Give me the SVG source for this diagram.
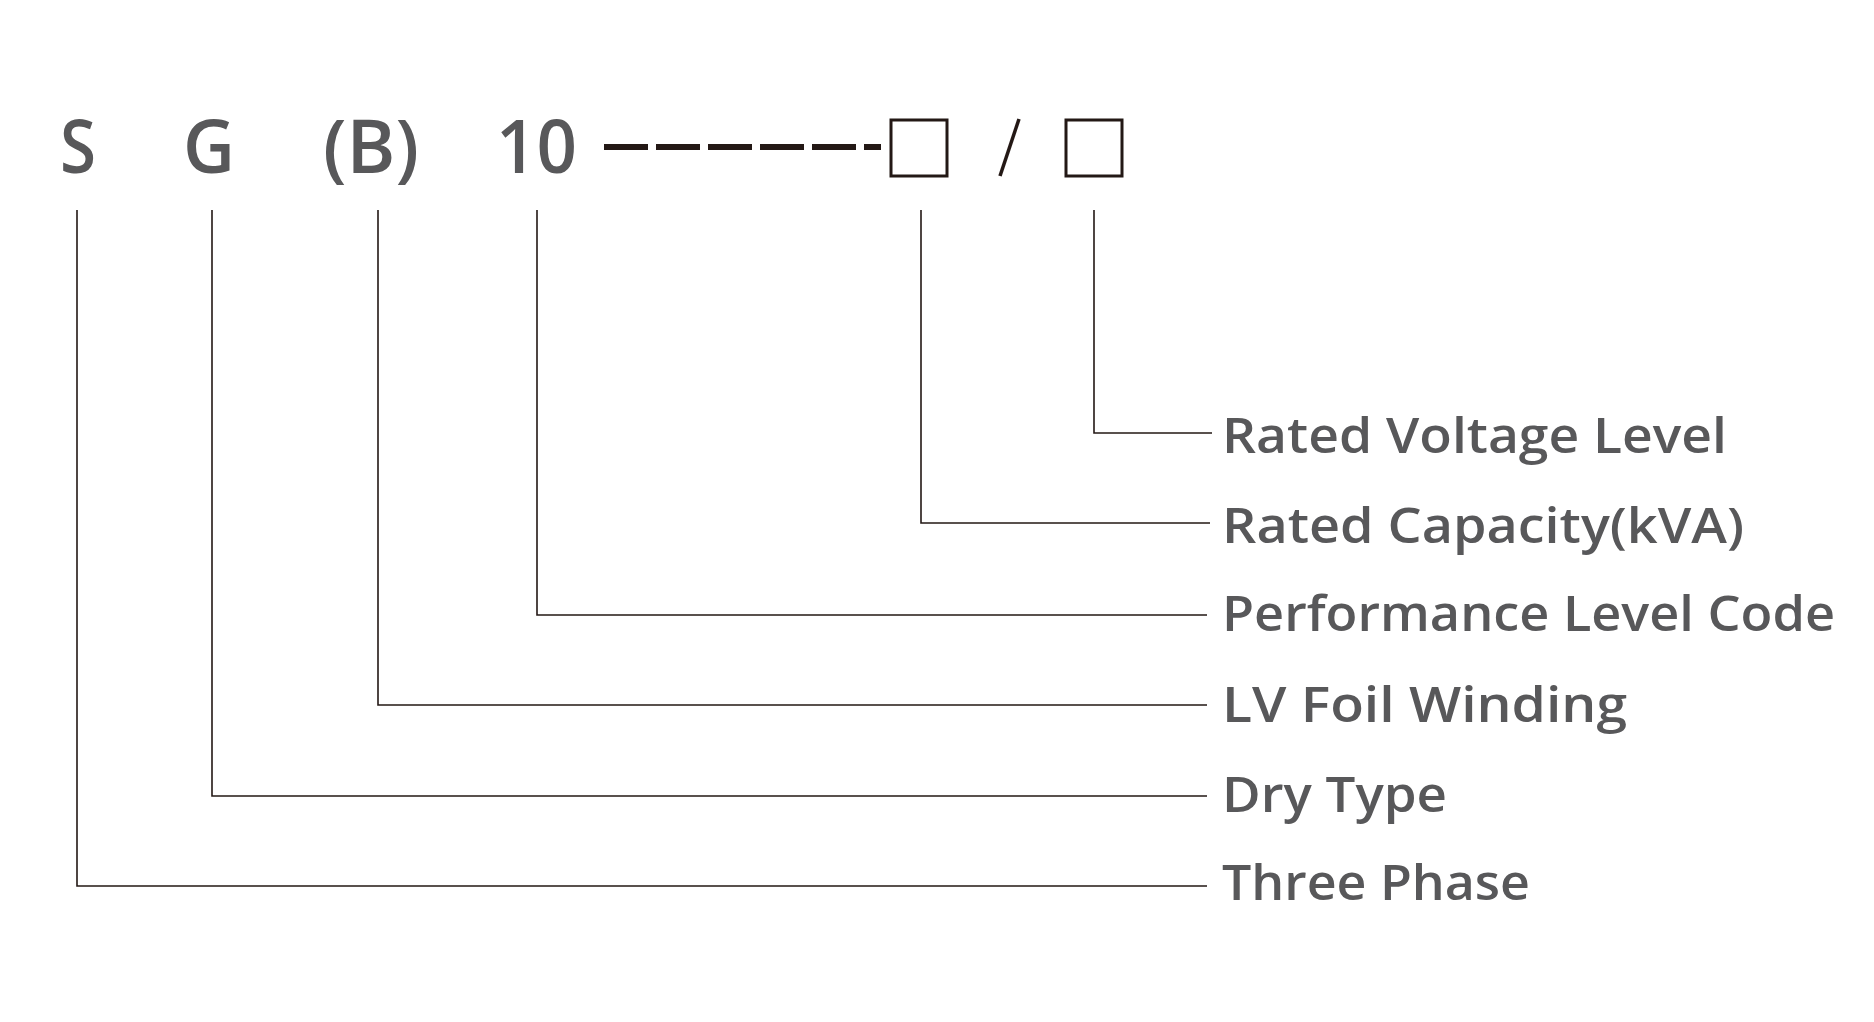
<svg xmlns="http://www.w3.org/2000/svg" width="1874" height="1022" viewBox="0 0 1874 1022">
<style>
.t{font-family:"Open Sans","Liberation Sans",sans-serif;font-weight:600;fill:#58585a}
.c{fill:none;stroke:#231815;stroke-width:1.6}
.b{fill:none;stroke:#231815;stroke-width:3}
</style>
<rect width="1874" height="1022" fill="#fff"/>
<g id="code">
<text class="t" x="60" y="173" font-size="74" textLength="36" lengthAdjust="spacingAndGlyphs">S</text>
<text class="t" x="183" y="173" font-size="74" textLength="52" lengthAdjust="spacingAndGlyphs">G</text>
<text class="t" x="323" y="173" font-size="74" textLength="96" lengthAdjust="spacingAndGlyphs">(B)</text>
<text class="t" x="496" y="173" font-size="74" textLength="81" lengthAdjust="spacingAndGlyphs">10</text>
<path d="M604 147H881" stroke="#231815" stroke-width="6" stroke-dasharray="44 8"/>
<rect class="b" x="891" y="120" width="56" height="56"/>
<path d="M1019 119L1000 176" stroke="#231815" stroke-width="3.5"/>
<rect class="b" x="1066" y="120" width="56" height="56"/>
</g>
<g id="connectors">
<path class="c" d="M1094 210V433H1212"/>
<path class="c" d="M921 210V523H1210"/>
<path class="c" d="M537 210V615H1207"/>
<path class="c" d="M378 210V705H1207"/>
<path class="c" d="M212 210V796H1207"/>
<path class="c" d="M77 210V886H1207"/>
</g>
<g id="labels" font-size="48">
<text class="t" x="1222" y="453" textLength="505" lengthAdjust="spacingAndGlyphs">Rated Voltage Level</text>
<text class="t" x="1222" y="543" textLength="522" lengthAdjust="spacingAndGlyphs">Rated Capacity(kVA)</text>
<text class="t" x="1222" y="631" textLength="613" lengthAdjust="spacingAndGlyphs">Performance Level Code</text>
<text class="t" x="1222" y="722" textLength="405" lengthAdjust="spacingAndGlyphs">LV Foil Winding</text>
<text class="t" x="1222" y="812" textLength="225" lengthAdjust="spacingAndGlyphs">Dry Type</text>
<text class="t" x="1222" y="900" textLength="308" lengthAdjust="spacingAndGlyphs">Three Phase</text>
</g>
</svg>
